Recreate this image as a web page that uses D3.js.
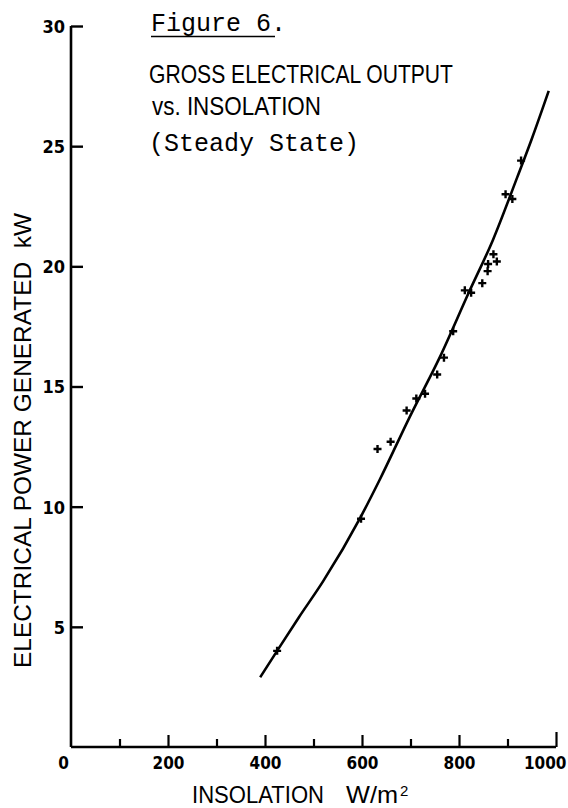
<!DOCTYPE html>
<html>
<head>
<meta charset="utf-8">
<script src="https://cdn.jsdelivr.net/npm/d3@7"></script>
<style>
  body { margin: 0; background: #fff; }
  .sans { font-family: "Liberation Sans Narrow", "Liberation Sans", sans-serif; }
  .cond { font-family: "DejaVu Sans Condensed", "DejaVu Sans", sans-serif; }
  .mono { font-family: "Liberation Mono", "DejaVu Sans Mono", monospace; }
</style>
</head>
<body>
<script>
// tick values
const xTicks = [0, 100, 200, 300, 400, 500, 600, 700, 800, 900, 1000];
const yTicks = [5, 10, 15, 20, 25, 30];

// fitted curve (W/m2 -> kW)
const curveW  = [390, 425, 470, 520, 598, 636, 700, 760, 820, 870, 920, 950, 985];
const curveKW = [2.9, 4.0, 5.4, 6.9, 9.6, 11.1, 13.8, 16.2, 18.9, 21.1, 23.7, 25.3, 27.3];

// measured points
const pointW  = [425, 598, 632, 659, 692, 712, 730, 755, 769, 788, 812, 825, 848, 859, 860, 871, 878, 896, 910, 928];
const pointKW = [4.0, 9.5, 12.4, 12.7, 14.0, 14.5, 14.7, 15.5, 16.2, 17.3, 19.0, 18.9, 19.3, 19.8, 20.1, 20.5, 20.2, 23.0, 22.8, 24.4];

const W = 568, H = 808;

const svg = d3.select("body").append("svg")
    .attr("width", W)
    .attr("height", H);

const x = d3.scaleLinear().domain([0, 1000]).range([71, 556]);
const y = d3.scaleLinear().domain([0, 30]).range([747, 26]);

// y axis, ticks point inward
const yAxis = svg.append("g")
    .attr("class", "cond")
    .attr("transform", "translate(" + x(0) + ",0)")
    .call(d3.axisLeft(y).tickValues(yTicks).tickSizeInner(-12).tickSizeOuter(0).tickPadding(6));
yAxis.select(".domain").attr("d", "M0," + y(0) + "V" + y(30)).attr("stroke-width", 2.6);
yAxis.selectAll(".tick line").attr("stroke-width", 2.4);
yAxis.selectAll(".tick text")
    .attr("font-size", 18)
    .attr("font-weight", "bold")
    .attr("dy", "0.36em");

// x axis
const xAxis = svg.append("g")
    .attr("class", "cond")
    .attr("transform", "translate(0," + y(0) + ")")
    .call(d3.axisBottom(x).tickValues(xTicks).tickSizeInner(-11).tickSizeOuter(0).tickPadding(10)
        .tickFormat(d => d % 200 === 0 ? d : ""));
xAxis.select(".domain").attr("d", "M" + x(0) + ",0H" + x(1000)).attr("stroke-width", 2.6);
xAxis.selectAll(".tick line")
    .attr("stroke-width", 2.2)
    .attr("y2", d => d === 0 ? 0 : d === 1000 ? -15 : d % 200 === 0 ? -12 : -8);
xAxis.selectAll(".tick text")
    .attr("font-size", 17)
    .attr("font-weight", "bold")
    .attr("dx", d => d === 0 ? -8 : 0);
// last label sits against the right edge
xAxis.selectAll(".tick text")
    .filter(d => d === 1000)
    .attr("text-anchor", "end")
    .attr("x", W - 2 - x(1000));

// axis titles
svg.append("text")
    .attr("class", "sans")
    .attr("x", 192).attr("y", 803)
    .attr("font-size", 24)
    .attr("textLength", 132)
    .attr("lengthAdjust", "spacingAndGlyphs")
    .text("INSOLATION");
svg.append("text")
    .attr("class", "sans")
    .attr("x", 346).attr("y", 803)
    .attr("font-size", 24)
    .attr("textLength", 52)
    .attr("lengthAdjust", "spacingAndGlyphs")
    .text("W/m");
svg.append("text")
    .attr("class", "sans")
    .attr("x", 400).attr("y", 796)
    .attr("font-size", 15)
    .text("2");

svg.append("text")
    .attr("class", "sans")
    .attr("transform", "translate(31,668) rotate(-90)")
    .attr("font-size", 24)
    .attr("textLength", 455)
    .attr("lengthAdjust", "spacingAndGlyphs")
    .text("ELECTRICAL POWER GENERATED\u00a0\u00a0kW");

// figure title block
svg.append("text")
    .attr("class", "mono")
    .attr("x", 151).attr("y", 31)
    .attr("font-size", 25)
    .text("Figure 6.");
svg.append("line")
    .attr("x1", 151).attr("x2", 275)
    .attr("y1", 36.5).attr("y2", 36.5)
    .attr("stroke", "#000").attr("stroke-width", 1.6);

svg.append("text")
    .attr("class", "sans")
    .attr("x", 149).attr("y", 83)
    .attr("font-size", 25)
    .attr("textLength", 304)
    .attr("lengthAdjust", "spacingAndGlyphs")
    .text("GROSS ELECTRICAL OUTPUT");
svg.append("text")
    .attr("class", "sans")
    .attr("x", 152).attr("y", 115)
    .attr("font-size", 25)
    .attr("textLength", 169)
    .attr("lengthAdjust", "spacingAndGlyphs")
    .text("vs. INSOLATION");
svg.append("text")
    .attr("class", "mono")
    .attr("x", 149).attr("y", 151)
    .attr("font-size", 25)
    .text("(Steady State)");

// curve
const line = d3.line()
    .x(i => x(curveW[i]))
    .y(i => y(curveKW[i]))
    .curve(d3.curveMonotoneX);

svg.append("path")
    .attr("d", line(d3.range(curveW.length)))
    .attr("fill", "none")
    .attr("stroke", "#000")
    .attr("stroke-width", 2.6);

// plus markers
svg.append("g").selectAll("path")
    .data(d3.range(pointW.length))
    .join("path")
    .attr("transform", i => "translate(" + x(pointW[i]) + "," + y(pointKW[i]) + ")")
    .attr("d", "M-4,0H4M0,-4V4")
    .attr("stroke", "#000")
    .attr("stroke-width", 2.4);

svg.selectAll(".domain, .tick line").attr("stroke", "#000");
svg.selectAll(".tick text").attr("fill", "#000");
</script>
</body>
</html>
